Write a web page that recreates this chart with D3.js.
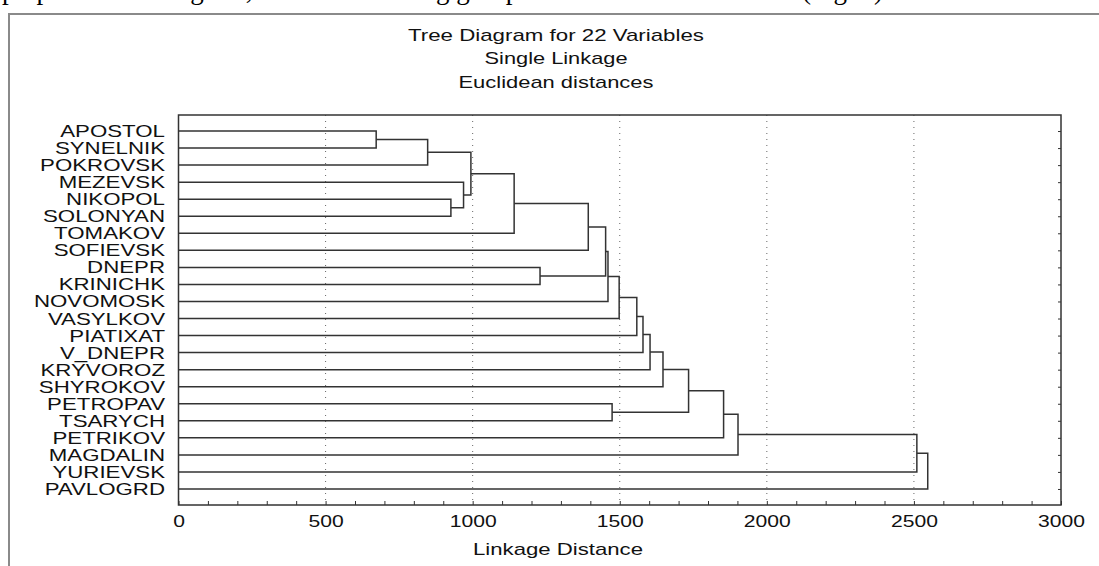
<!DOCTYPE html>
<html>
<head>
<meta charset="utf-8">
<script src="https://cdn.jsdelivr.net/npm/d3@7"></script>
<style>
  body { margin: 0; background: #fff; }
  svg { display: block; font-family: Arial, "Liberation Sans", sans-serif; }
</style>
</head>
<body>
<svg id="chart" width="1099" height="566"></svg>
<script>
// leaves in the order the tree shows them, top to bottom
const leaves = [
  'APOSTOL', 'SYNELNIK', 'POKROVSK', 'MEZEVSK', 'NIKOPOL', 'SOLONYAN',
  'TOMAKOV', 'SOFIEVSK', 'DNEPR', 'KRINICHK', 'NOVOMOSK', 'VASYLKOV',
  'PIATIXAT', 'V_DNEPR', 'KRYVOROZ', 'SHYROKOV', 'PETROPAV', 'TSARYCH',
  'PETRIKOV', 'MAGDALIN', 'YURIEVSK', 'PAVLOGRD'
];

// each merge joins two members (leaf name or cluster id "cN" = merges[N])
const merges = [
  ['APOSTOL', 'SYNELNIK'],   // c0
  ['c0', 'POKROVSK'],        // c1
  ['NIKOPOL', 'SOLONYAN'],   // c2
  ['MEZEVSK', 'c2'],         // c3
  ['c1', 'c3'],              // c4
  ['c4', 'TOMAKOV'],         // c5
  ['c5', 'SOFIEVSK'],        // c6
  ['DNEPR', 'KRINICHK'],     // c7
  ['c6', 'c7'],              // c8
  ['c8', 'NOVOMOSK'],        // c9
  ['c9', 'VASYLKOV'],        // c10
  ['c10', 'PIATIXAT'],       // c11
  ['c11', 'V_DNEPR'],        // c12
  ['c12', 'KRYVOROZ'],       // c13
  ['c13', 'SHYROKOV'],       // c14
  ['PETROPAV', 'TSARYCH'],   // c15
  ['c14', 'c15'],            // c16
  ['c16', 'PETRIKOV'],       // c17
  ['c17', 'MAGDALIN'],       // c18
  ['c18', 'YURIEVSK'],       // c19
  ['c19', 'PAVLOGRD']        // c20
];

// linkage distance of each merge
const heights = [
  672, 847, 926, 969, 994, 1141, 1393, 1229, 1452, 1460, 1498,
  1558, 1579, 1603, 1647, 1474, 1734, 1853, 1902, 2510, 2547
];

const titleLines = ['Tree Diagram for 22 Variables', 'Single Linkage', 'Euclidean distances'];
const xTicks = [0, 500, 1000, 1500, 2000, 2500, 3000];
const xLabel = 'Linkage Distance';

const svg = d3.select('svg#chart');
const plotL = 178.5, plotR = 1061, plotT = 115, plotB = 505;

const x = d3.scaleLinear().domain([0, 3000]).range([plotL, plotR]);
const y = d3.scalePoint().domain(leaves).range([plotT, plotB]).padding(0.94);

// stray line of the page text above the figure, only its descenders show
svg.append('text')
  .attr('x', 2).attr('y', -1)
  .style('font-family', '"Liberation Serif", "Times New Roman", serif')
  .style('font-size', '27px')
  .attr('fill', '#000')
  .text('perpendicular diagram, and the following groups of districts were formed (Fig. 3)');

// outer frame
svg.append('path')
  .attr('d', 'M9,570 L9,14 L1105,14')
  .attr('fill', 'none')
  .attr('stroke', '#8a8a8a')
  .attr('stroke-width', 2);

// titles
const titleY = [41, 64, 88];
const titleW = [296, 143, 195];
titleLines.forEach((t, i) => {
  svg.append('text')
    .attr('x', 556 - titleW[i] / 2).attr('y', titleY[i])
    .attr('textLength', titleW[i])
    .attr('lengthAdjust', 'spacingAndGlyphs')
    .style('font-size', '17px')
    .attr('fill', '#111')
    .text(t);
});

// dotted grid
svg.append('g').selectAll('line')
  .data(xTicks.filter(d => d > 0 && d < 3000))
  .enter().append('line')
    .attr('x1', d => x(d)).attr('x2', d => x(d))
    .attr('y1', plotT).attr('y2', plotB)
    .attr('stroke', '#666')
    .attr('stroke-width', 1)
    .attr('stroke-dasharray', '1,5');

// node positions
const pos = {};
leaves.forEach(n => { pos[n] = { h: 0, y: y(n) }; });
const links = merges.map((m, i) => {
  const a = pos[m[0]], b = pos[m[1]];
  const h = heights[i];
  pos['c' + i] = { h: h, y: (a.y + b.y) / 2 };
  return { a, b, h };
});

svg.append('g').selectAll('path')
  .data(links)
  .enter().append('path')
    .attr('d', d => `M${x(d.a.h)},${d.a.y}H${x(d.h)}V${d.b.y}H${x(d.b.h)}`)
    .attr('fill', 'none')
    .attr('stroke', '#333')
    .attr('stroke-width', 1.5);

// bottom axis
const xAxis = svg.append('g')
  .attr('transform', `translate(0,${plotB})`)
  .call(d3.axisBottom(x)
    .tickValues(d3.range(0, 3001, 100))
    .tickSize(-4)
    .tickFormat(d => xTicks.includes(d) ? d : ''));
xAxis.select('.domain').remove();
xAxis.selectAll('line').attr('stroke', '#333');
xAxis.selectAll('text')
  .attr('y', 22).attr('dy', 0)
  .attr('transform', 'scale(1.32,1)')
  .style('font-size', '16px')
  .style('font-family', 'Arial, "Liberation Sans", sans-serif')
  .attr('fill', '#111');

// right axis ticks
const yAxis = svg.append('g')
  .attr('transform', `translate(${plotR},0)`)
  .call(d3.axisRight(y).tickSize(-3).tickFormat(''));
yAxis.select('.domain').remove();
yAxis.selectAll('line').attr('stroke', '#333');

// plot border
svg.append('rect')
  .attr('x', plotL).attr('y', plotT)
  .attr('width', plotR - plotL).attr('height', plotB - plotT)
  .attr('fill', 'none')
  .attr('stroke', '#333')
  .attr('stroke-width', 1.5);

// leaf labels
svg.append('g').selectAll('text')
  .data(leaves)
  .enter().append('text')
    .attr('transform', d => `translate(165,${y(d) + 6}) scale(1.31,1)`)
    .attr('text-anchor', 'end')
    .style('font-size', '17px')
    .attr('fill', '#111')
    .text(d => d);

// axis title
svg.append('text')
  .attr('x', 473).attr('y', 555)
  .attr('textLength', 170)
  .attr('lengthAdjust', 'spacingAndGlyphs')
  .style('font-size', '17px')
  .attr('fill', '#111')
  .text(xLabel);
</script>
</body>
</html>
